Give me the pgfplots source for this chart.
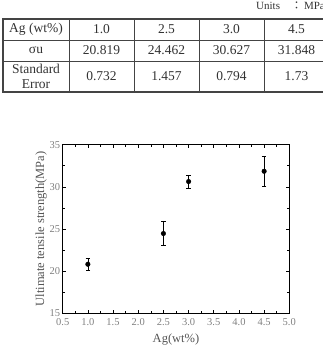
\documentclass[border=0pt]{standalone}
\usepackage{fontspec}
\setmainfont{Liberation Serif}
\newfontfamily\cjk{Noto Sans CJK KR}
\usepackage{pgfplots}
\pgfplotsset{compat=1.18}

\definecolor{tabtext}{HTML}{333333}
\definecolor{tabline}{HTML}{444444}
\definecolor{ticktext}{HTML}{808080}
\definecolor{labeltext}{HTML}{555555}

\begin{document}
\begin{tikzpicture}[x=1pt,y=1pt]
\useasboundingbox (0,0) rectangle (323,356);
\clip (0,0) rectangle (323,356);

% units note above the table
\node[anchor=west, text=tabtext, font=\fontsize{11}{13}\selectfont, inner sep=0pt] at (256,350) {Units\hspace{11pt}{\cjk ：}\hspace{2pt}MPa};

% table grid
\draw[tabline, line width=0.7pt] (3,316) -- (340,316);
\draw[tabline, line width=0.7pt] (3,295) -- (340,295);
\foreach \cx in {69,134,199,264,329} {
  \draw[tabline, line width=0.7pt] (\cx,337) -- (\cx,264);
}
\draw[tabline, line width=1.1pt] (3,264) rectangle (345,337);

% table contents
\begin{scope}[every node/.style={text=tabtext, font=\fontsize{13.5}{16}\selectfont, inner sep=0pt}]
\node at (36,326.5) {Ag (wt\%)};
\node at (36,305.5) {σu};
\node[align=center, font=\fontsize{13.5}{15.5}\selectfont] at (36,279.5) {Standard\\Error};
\foreach \cx/\a/\b/\c in {101.5/1.0/20.819/0.732, 166.5/2.5/24.462/1.457, 231.5/3.0/30.627/0.794, 296.5/4.5/31.848/1.73} {
  \node at (\cx,326.5) {\a};
  \node at (\cx,305.5) {\b};
  \node at (\cx,279.5) {\c};
}
\end{scope}

% tensile strength versus Ag content
\begin{axis}[
  at={(62.7pt,42.7pt)}, anchor=south west,
  scale only axis, width=226.6pt, height=168.6pt,
  xmin=0.5, xmax=5.0, ymin=15, ymax=35,
  xtick={0.5,1.0,...,5.0}, ytick={15,20,...,35},
  minor x tick num=1, minor y tick num=1,
  tick align=inside,
  major tick length=3pt, minor tick length=2pt,
  axis line style={black, line width=0.8pt},
  tick style={black, line width=0.6pt},
  /pgf/number format/assume math mode=true,
  xticklabel style={/pgf/number format/fixed, /pgf/number format/fixed zerofill, /pgf/number format/precision=1, yshift=-1.5pt},
  tick label style={text=ticktext, font=\fontsize{10.5}{12}\selectfont},
  yticklabel style={xshift=1pt},
  xlabel={Ag(wt\%)},
  ylabel={Ultimate tensile strength(MPa)},
  label style={text=labeltext, font=\fontsize{12.5}{14}\selectfont},
  xlabel style={yshift=-1pt},
  ylabel style={yshift=-4pt},
]
\addplot[only marks, mark=*, mark size=2.3pt, black,
  error bars/.cd, y dir=both, y explicit,
  error bar style={line width=0.7pt, black},
  error mark options={rotate=90, mark size=2.2pt, line width=0.7pt, black}]
  coordinates {
    (1.0,20.819) +- (0,0.732)
    (2.5,24.462) +- (0,1.457)
    (3.0,30.627) +- (0,0.794)
    (4.5,31.848) +- (0,1.73)
  };
\end{axis}
\end{tikzpicture}
\end{document}
